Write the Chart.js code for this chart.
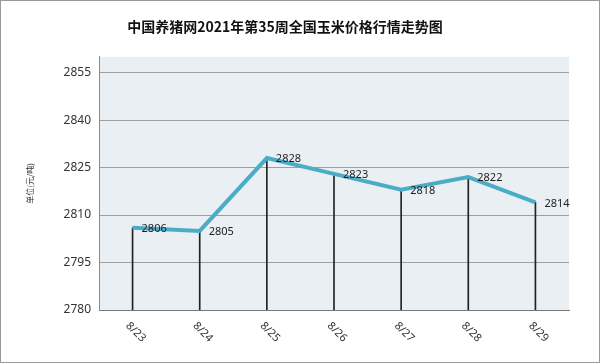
<!DOCTYPE html>
<html>
<head>
<meta charset="utf-8">
<script src="https://cdn.jsdelivr.net/npm/chart.js@4"></script>
<style>
  body { margin: 0; background: #fff; }
  .box { width: 600px; height: 363px; box-sizing: border-box; border: 1px solid #9a9a9a; }
  canvas { display: block; }
</style>
</head>
<body>
<div class="box"><canvas id="c" width="598" height="361"></canvas></div>
<script>
var dates = ["8/23", "8/24", "8/25", "8/26", "8/27", "8/28", "8/29"];
var prices = [2806, 2805, 2828, 2823, 2818, 2822, 2814];
var yTicks = [2780, 2795, 2810, 2825, 2840, 2855];

var plotBg = {
    id: 'plotBg',
    beforeDraw: function (chart) {
        var a = chart.chartArea, c = chart.ctx;
        c.save();
        c.fillStyle = '#e9eff3';
        c.fillRect(a.left, a.top, a.right - a.left, a.bottom - a.top);
        c.restore();
    }
};

var labels = {
    id: 'labels',
    afterDatasetsDraw: function (chart) {
        var c = chart.ctx;
        var meta = chart.getDatasetMeta(0);
        c.save();
        c.font = '11px "Noto Sans", sans-serif';
        c.fillStyle = '#222';
        c.textAlign = 'left';
        c.textBaseline = 'middle';
        meta.data.forEach(function (p, i) {
            c.fillText(prices[i], p.x + 9, p.y + 1);
        });
        // rotated date labels under the axis
        var x = chart.scales.x;
        c.fillStyle = '#333';
        dates.forEach(function (d, i) {
            var px = x.getPixelForValue(i);
            c.save();
            c.translate(px - 5, x.top + 14);
            c.rotate(Math.PI / 4);
            c.fillText(d, 0, 0);
            c.restore();
        });
        c.restore();
    }
};

new Chart(document.getElementById('c'), {
    data: {
        labels: dates,
        datasets: [{
            type: 'line',
            data: prices,
            borderColor: '#4bacc6',
            borderWidth: 4,
            pointRadius: 0,
            tension: 0,
            order: 0
        }, {
            type: 'bar',
            data: prices,
            backgroundColor: '#222',
            barThickness: 1,
            order: 1
        }]
    },
    options: {
        responsive: false,
        animation: false,
        layout: { padding: { left: 0, right: 30, top: 0, bottom: 0 } },
        plugins: {
            legend: { display: false },
            tooltip: { enabled: false },
            title: {
                display: true,
                text: '中国养猪网2021年第35周全国玉米价格行情走势图',
                color: '#111',
                font: { family: '"Noto Sans CJK SC", sans-serif', size: 14, weight: 'bold' },
                padding: { top: 17, bottom: 22 }
            }
        },
        scales: {
            x: {
                offset: true,
                grid: { display: false },
                border: { color: '#777' },
                ticks: { display: false },
                afterFit: function (s) { s.height = 52; }
            },
            y: {
                min: 2780,
                max: 2860,
                afterBuildTicks: function (s) {
                    s.ticks = yTicks.map(function (v) { return { value: v }; });
                },
                grid: { color: '#9e9e9e', drawTicks: false },
                border: { color: '#888' },
                ticks: {
                    color: '#333',
                    padding: 8,
                    font: { family: '"Noto Sans", sans-serif', size: 12 },
                    callback: function (v) { return String(v); }
                },
                title: {
                    display: true,
                    text: '单位(元/吨)',
                    color: '#333',
                    font: { family: '"Noto Sans CJK SC", sans-serif', size: 8 },
                    padding: { top: 24, bottom: 0 }
                },
                afterFit: function (s) { s.width = 98; }
            }
        }
    },
    plugins: [plotBg, labels]
});
</script>
</body>
</html>
